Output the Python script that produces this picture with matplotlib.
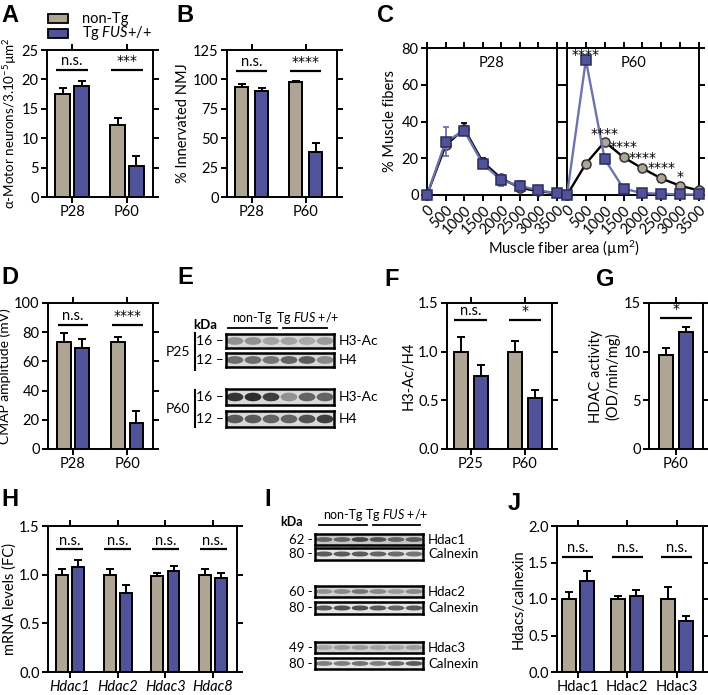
import numpy as np
import matplotlib.pyplot as plt
from matplotlib.patches import Ellipse, Rectangle
from matplotlib.ticker import FormatStrFormatter

plt.rcParams['font.family'] = ['Lato', 'DejaVu Sans']
plt.rcParams['mathtext.fontset'] = 'custom'
plt.rcParams['mathtext.rm'] = 'Lato'
plt.rcParams['mathtext.it'] = 'Lato:italic'
plt.rcParams['mathtext.default'] = 'regular'

# --- data ---
GRAY = '#aea595'
BLUE = '#50539a'
BLUE_LINE = '#6e72ad'

ages_a = ['P28', 'P60']
mn_ctrl, mn_ctrl_err = [17.5, 12.3], [1.0, 1.2]
mn_tg, mn_tg_err = [18.9, 5.3], [0.8, 1.6]

nmj_ctrl, nmj_ctrl_err = [93.5, 98.0], [2.5, 1.0]
nmj_tg, nmj_tg_err = [90.5, 38.0], [2.0, 8.0]

fiber_bins = [0, 500, 1000, 1500, 2000, 2500, 3000, 3500]
p28_ctrl = [0, 27, 36, 18, 9, 4, 2, 1]
p28_ctrl_err = [0, 2, 3, 2, 1.5, 1, 0.5, 0.3]
p28_tg = [0, 29, 35, 17, 8, 5, 2.5, 1]
p28_tg_err = [0, 8, 2, 2, 3, 2.5, 1, 0.5]
p60_ctrl = [0, 17, 29, 20.5, 14.5, 9, 5, 2.5]
p60_ctrl_err = [0, 1.5, 1, 1, 1, 2, 1, 0.5]
p60_tg = [0, 73.5, 19.5, 3.5, 1, 0.7, 0.3, 0.3]
p60_tg_err = [0, 2, 1.5, 0.5, 0.3, 0.2, 0.2, 0.2]
p60_stars = ['****', '****', '****', '****', '****', '*']
p60_star_x = [500, 1000, 1500, 2000, 2500, 3000]
p60_star_y = [76, 33, 26, 20, 14.5, 10]

cmap_ctrl, cmap_ctrl_err = [73.5, 73.5], [6.0, 3.5]
cmap_tg, cmap_tg_err = [69.5, 17.5], [6.0, 8.5]

ages_f = ['P25', 'P60']
h3_ctrl, h3_ctrl_err = [1.0, 1.0], [0.15, 0.11]
h3_tg, h3_tg_err = [0.75, 0.52], [0.11, 0.09]

ages_g = ['P60']
hdac_act_ctrl, hdac_act_ctrl_err = [9.7], [0.7]
hdac_act_tg, hdac_act_tg_err = [12.0], [0.5]

genes_h = ['Hdac1', 'Hdac2', 'Hdac3', 'Hdac8']
mrna_ctrl, mrna_ctrl_err = [1.0, 1.0, 0.99, 1.0], [0.06, 0.06, 0.03, 0.06]
mrna_tg, mrna_tg_err = [1.08, 0.81, 1.04, 0.97], [0.07, 0.08, 0.05, 0.05]

genes_j = ['Hdac1', 'Hdac2', 'Hdac3']
prot_ctrl, prot_ctrl_err = [1.0, 1.0, 1.0], [0.09, 0.04, 0.17]
prot_tg, prot_tg_err = [1.25, 1.04, 0.70], [0.13, 0.08, 0.07]

# blot band intensities (6 lanes: 3 non-Tg, 3 Tg)
blot_e = {
    'P25 H3-Ac': [0.35, 0.35, 0.25, 0.25, 0.22, 0.30],
    'P25 H4': [0.55, 0.55, 0.50, 0.60, 0.65, 0.40],
    'P60 H3-Ac': [0.85, 0.90, 0.80, 0.35, 0.60, 0.60],
    'P60 H4': [0.65, 0.65, 0.60, 0.60, 0.70, 0.80],
}
blot_i = {
    'Hdac1': [0.60, 0.60, 0.75, 0.70, 0.60, 0.65],
    'Calnexin 1': [0.65, 0.65, 0.65, 0.60, 0.55, 0.50],
    'Hdac2': [0.35, 0.40, 0.50, 0.40, 0.30, 0.40],
    'Calnexin 2': [0.65, 0.70, 0.70, 0.65, 0.60, 0.65],
    'Hdac3': [0.25, 0.30, 0.30, 0.25, 0.25, 0.30],
    'Calnexin 3': [0.45, 0.45, 0.50, 0.45, 0.55, 0.65],
}

W, H = 708, 695
fig = plt.figure(figsize=(W / 100, H / 100), dpi=100)


def rect(l, r, t, b):
    return [l / W, 1 - b / H, (r - l) / W, (b - t) / H]


def style_axes(ax, lw=1.4):
    for s in ax.spines.values():
        s.set_linewidth(lw)
    ax.tick_params(direction='out', length=4, width=lw, top=True, right=True,
                   labeltop=False, labelright=False, labelsize=10.5, pad=2)


def sig_text(ax, x, y, s, va='bottom'):
    # asterisks look closer to the original in DejaVu
    fam = 'DejaVu Sans' if '*' in s else None
    ax.text(x, y, s, ha='center', va=va, fontsize=10 if fam else 10.5,
            family=fam, zorder=7)


def bar_panel(ax, names, ctrl, ctrl_err, tg, tg_err, sig, sig_y, ylim, ystep,
              fmt, ylabel, xlim, off, width, italic=False, ylsize=10.5):
    x = np.arange(len(names))
    z = np.zeros(len(x))
    ax.bar(x - off, ctrl, width, color=GRAY, edgecolor='k', linewidth=1.4, zorder=3)
    ax.bar(x + off, tg, width, color=BLUE, edgecolor='k', linewidth=1.4, zorder=3)
    ax.errorbar(x - off, ctrl, yerr=[z, ctrl_err], fmt='none', ecolor='k',
                elinewidth=1.4, capsize=3, capthick=1.4, zorder=4)
    ax.errorbar(x + off, tg, yerr=[z, tg_err], fmt='none', ecolor='k',
                elinewidth=1.4, capsize=3, capthick=1.4, zorder=4)
    half = off + width * 0.45
    for xi, s in zip(x, sig):
        ax.plot([xi - half, xi + half], [sig_y, sig_y], color='k', lw=1.6,
                solid_capstyle='butt')
        sig_text(ax, xi, sig_y + (ylim[1] - ylim[0]) * 0.012, s)
    ax.set_xlim(*xlim)
    ax.set_ylim(*ylim)
    ax.set_yticks(np.arange(ylim[0], ylim[1] + ystep / 2, ystep))
    ax.yaxis.set_major_formatter(FormatStrFormatter(fmt))
    ax.set_xticks(x, names)
    ax.set_ylabel(ylabel, fontsize=ylsize, labelpad=2)
    style_axes(ax)
    if italic:
        for lab in ax.get_xticklabels():
            lab.set_style('italic')


# overlay in pixel coordinates for letters, legend and blot labels
ov = fig.add_axes([0, 0, 1, 1])
ov.set_xlim(0, W)
ov.set_ylim(H, 0)
ov.axis('off')

letters = {'A': (1, 15), 'B': (176, 15), 'C': (377, 15), 'D': (1, 277),
           'E': (177, 277), 'F': (384, 280), 'G': (596, 280), 'H': (1, 500),
           'I': (264, 500), 'J': (508, 503)}
for k, (lx, ly) in letters.items():
    ov.text(lx, ly, k, fontsize=17, fontweight='bold', family='Liberation Sans',
            ha='left', va='center')

# legend (panel A)
for yy, col, lab in [(18.5, GRAY, 'non-Tg'), (33, BLUE, 'Tg $\\it{FUS}$+/+')]:
    ov.add_patch(Rectangle((48, yy - 4.5), 20, 9, facecolor=col, edgecolor='k', lw=1.3))
    ov.text(82, yy, lab, fontsize=10.5, va='center', ha='left')

# A
axA = fig.add_axes(rect(47, 153, 50, 197))
bar_panel(axA, ages_a, mn_ctrl, mn_ctrl_err, mn_tg, mn_tg_err, ['n.s.', '***'],
          21.6, (0, 25), 5, '%d', 'α-Motor neurons/3.10$^{-5}$µm$^{2}$',
          (-0.46, 1.475), 0.17, 0.27, ylsize=9.6)

# B
axB = fig.add_axes(rect(227, 337, 50, 197))
bar_panel(axB, ages_a, nmj_ctrl, nmj_ctrl_err, nmj_tg, nmj_tg_err, ['n.s.', '****'],
          107, (0, 125), 25, '%d', '% Innervated NMJ',
          (-0.454, 1.58), 0.185, 0.24)

# C
axC1 = fig.add_axes(rect(427, 557, 48, 195))
axC2 = fig.add_axes(rect(567, 699, 48, 195))
for ax, ctrl, ce, tg, te, title in [(axC1, p28_ctrl, p28_ctrl_err, p28_tg, p28_tg_err, 'P28'),
                                    (axC2, p60_ctrl, p60_ctrl_err, p60_tg, p60_tg_err, 'P60')]:
    ax.errorbar(fiber_bins, ctrl, yerr=ce, fmt='none', ecolor='k', elinewidth=1.3,
                capsize=2.5, capthick=1.3, clip_on=False, zorder=3)
    ax.plot(fiber_bins, ctrl, color='k', lw=1.7, marker='o', ms=6.5,
            mfc=GRAY, mec='#333333', mew=1.1, clip_on=False, zorder=4)
    ax.errorbar(fiber_bins, tg, yerr=te, fmt='none', ecolor=BLUE_LINE, elinewidth=1.3,
                capsize=2.5, capthick=1.3, clip_on=False, zorder=5)
    ax.plot(fiber_bins, tg, color=BLUE_LINE, lw=1.7, marker='s', ms=6.5,
            mfc=BLUE, mec='#2b2d5a', mew=1.1, clip_on=False, zorder=6)
    ax.set_xlim(0, 3500)
    ax.set_ylim(0, 80)
    ax.set_yticks([0, 20, 40, 60, 80])
    ax.set_xticks(fiber_bins)
    ax.set_xticklabels([str(b) for b in fiber_bins], rotation=45, ha='right',
                       rotation_mode='anchor', fontsize=10)
    style_axes(ax)
    ax.text(1750, 72, title, ha='center', va='center', fontsize=10.5)
axC1.set_ylabel('% Muscle fibers', fontsize=10.5, labelpad=3)
axC2.tick_params(labelleft=False)
for sx, sy, st in zip(p60_star_x, p60_star_y, p60_stars):
    sig_text(axC2, sx, sy, st, va='center')
ov.text(564, 249, 'Muscle fiber area (µm$^{2}$)', ha='center', va='center', fontsize=10.5)

# D
axD = fig.add_axes(rect(48, 153, 303, 449))
bar_panel(axD, ages_a, cmap_ctrl, cmap_ctrl_err, cmap_tg, cmap_tg_err, ['n.s.', '****'],
          85, (0, 100), 20, '%d', 'CMAP amplitude (mV)',
          (-0.46, 1.475), 0.17, 0.25, ylsize=10)

# F
axF = fig.add_axes(rect(447, 552, 303, 449))
bar_panel(axF, ages_f, h3_ctrl, h3_ctrl_err, h3_tg, h3_tg_err, ['n.s.', '*'],
          1.325, (0, 1.5), 0.5, '%.1f', 'H3-Ac/H4',
          (-0.44, 1.5), 0.185, 0.26)

# G
axG = fig.add_axes(rect(649, 703, 303, 449))
bar_panel(axG, ages_g, hdac_act_ctrl, hdac_act_ctrl_err, hdac_act_tg, hdac_act_tg_err,
          ['*'], 13.5, (0, 15), 5, '%d', 'HDAC activity\n(OD/min/mg)',
          (-0.5, 0.5), 0.185, 0.26)

# H
axH = fig.add_axes(rect(48, 237, 526, 672))
bar_panel(axH, genes_h, mrna_ctrl, mrna_ctrl_err, mrna_tg, mrna_tg_err, ['n.s.'] * 4,
          1.26, (0, 1.5), 0.5, '%.1f', 'mRNA levels (FC)',
          (-0.46, 3.5), 0.17, 0.25, italic=True)

# J
axJ = fig.add_axes(rect(557, 703, 526, 672))
bar_panel(axJ, genes_j, prot_ctrl, prot_ctrl_err, prot_tg, prot_tg_err, ['n.s.'] * 3,
          1.575, (0, 2.0), 0.5, '%.1f', 'Hdacs/calnexin',
          (-0.42, 2.53), 0.185, 0.28)


def blot_strip(l, r, t, b, lanes, band_h, bg):
    ax = fig.add_axes(rect(l, r, t, b))
    ax.set_facecolor(bg)
    ax.set_xlim(0, len(lanes))
    ax.set_ylim(0, 1)
    for i, v in enumerate(lanes):
        shade = 0.82 - 0.72 * v
        ax.add_patch(Ellipse((i + 0.5, 0.5), 0.85, band_h, color=str(shade)))
    ax.set_xticks([])
    ax.set_yticks([])
    for s in ax.spines.values():
        s.set_linewidth(1.8)
    return ax


# E blot
rows_e = [(334, 348, 'P25 H3-Ac', '16', 'H3-Ac'), (353, 367, 'P25 H4', '12', 'H4'),
          (389, 405, 'P60 H3-Ac', '16', 'H3-Ac'), (411, 427, 'P60 H4', '12', 'H4')]
for t, b, key, kda, lab in rows_e:
    blot_strip(226, 334, t, b, blot_e[key], 0.45, '#d9d9d9')
    ov.text(224, (t + b) / 2, kda + ' –', ha='right', va='center', fontsize=10)
    ov.text(339, (t + b) / 2, lab, ha='left', va='center', fontsize=10)
ov.text(205, 325, 'kDa', ha='center', va='center', fontsize=9.5, fontweight='bold')
ov.text(252, 318, 'non-Tg', ha='center', va='center', fontsize=9)
ov.plot([228, 277], [328, 328], color='k', lw=1.3)
ov.text(308, 318, 'Tg $\\it{FUS}$ +/+', ha='center', va='center', fontsize=9)
ov.plot([283, 327], [328, 328], color='k', lw=1.3)
ov.text(190, 352, 'P25', ha='right', va='center', fontsize=10)
ov.plot([195, 195], [333, 370], color='k', lw=1.5)
ov.text(190, 409, 'P60', ha='right', va='center', fontsize=10)
ov.plot([195, 195], [390, 427], color='k', lw=1.5)

# I blot
rows_i = [(534, 545, 'Hdac1', '62', 'Hdac1', '#c8c8c8'),
          (548, 560, 'Calnexin 1', '80', 'Calnexin', '#e4e4e4'),
          (586, 597, 'Hdac2', '60', 'Hdac2', '#d2d2d2'),
          (602, 614, 'Calnexin 2', '80', 'Calnexin', '#e4e4e4'),
          (642, 653, 'Hdac3', '49', 'Hdac3', '#cfcfcf'),
          (658, 669, 'Calnexin 3', '80', 'Calnexin', '#e6e6e6')]
for t, b, key, kda, lab, bg in rows_i:
    blot_strip(315, 423, t, b, blot_i[key], 0.3, bg)
    ov.text(313, (t + b) / 2, kda + ' -', ha='right', va='center', fontsize=9.5)
    ov.text(428, (t + b) / 2, lab, ha='left', va='center', fontsize=9.5)
ov.text(292, 522, 'kDa', ha='center', va='center', fontsize=9, fontweight='bold')
ov.text(343, 515, 'non-Tg', ha='center', va='center', fontsize=9)
ov.plot([319, 367], [525, 525], color='k', lw=1.3)
ov.text(397, 515, 'Tg $\\it{FUS}$ +/+', ha='center', va='center', fontsize=9)
ov.plot([373, 420], [525, 525], color='k', lw=1.3)

fig.savefig('out.png', dpi=100)
